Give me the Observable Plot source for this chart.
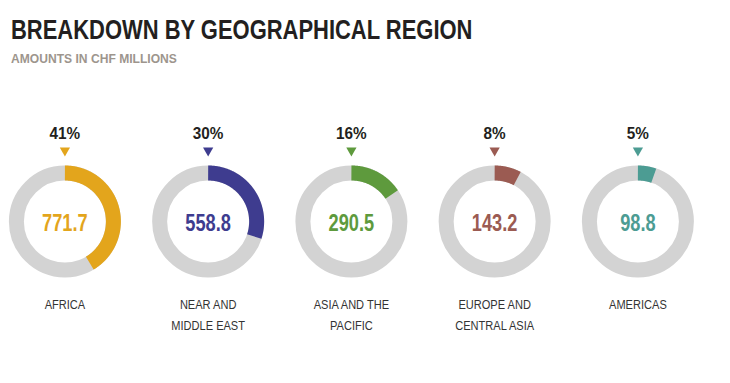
<!DOCTYPE html>
<html>
<head>
<meta charset="utf-8">
<script src="https://cdn.jsdelivr.net/npm/d3@7"></script>
<script src="https://cdn.jsdelivr.net/npm/@observablehq/plot@0.6"></script>
<style>
  html, body { margin: 0; padding: 0; background: #ffffff; }
  #wrap { width: 730px; height: 383px; position: relative; overflow: hidden; }
  #head { height: 75px; position: relative; }
  #title { position: absolute; left: 11px; top: 17px; margin: 0; font-family: "Liberation Sans", sans-serif; font-weight: bold; font-size: 27px; line-height: 27px; color: #231f20; white-space: nowrap; transform: scaleX(0.813); transform-origin: 0 0; }
  #subtitle { position: absolute; left: 11px; top: 52px; margin: 0; font-family: "Liberation Sans", sans-serif; font-weight: bold; font-size: 13px; line-height: 13px; color: #9d958d; white-space: nowrap; transform: scaleX(0.93); transform-origin: 0 0; }
</style>
</head>
<body>
<div id="wrap">
  <div id="head">
    <div id="title">BREAKDOWN BY GEOGRAPHICAL REGION</div>
    <div id="subtitle">AMOUNTS IN CHF MILLIONS</div>
  </div>
  <div id="chart"></div>
</div>
<script>
// ---- data ----
const regions = ["AFRICA", "NEAR AND\nMIDDLE EAST", "ASIA AND THE\nPACIFIC", "EUROPE AND\nCENTRAL ASIA", "AMERICAS"];
const amounts = [771.7, 558.8, 290.5, 143.2, 98.8];
const shareLabels = ["41%", "30%", "16%", "8%", "5%"];
const colors = ["#e3a51c", "#3e3c8f", "#5e9a3d", "#9b5b52", "#4c9c93"];

// ---- layout constants ----
const W = 730, H = 308;
const SLOT = 143.25, FIRST = 64.4;   // px between donut centres, px of first centre
const R = 48.5, RING = 15;           // ring mid radius and thickness (px)
const total = d3.sum(amounts);

const rows = regions.map((r, i) => ({i, region: r, amount: amounts[i], label: shareLabels[i], color: colors[i], share: amounts[i] / total}));

const arcPts = [];
rows.forEach(d => {
  const end = d.share * 360;
  for (let a = 0; a <= end; a += 0.5) arcPts.push({i: d.i, color: d.color, a});
  arcPts.push({i: d.i, color: d.color, a: end});
});
const rad = a => a * Math.PI / 180;

const chart = Plot.plot({
  width: W,
  height: H,
  margin: 0,
  x: {domain: [-FIRST / SLOT, (W - FIRST) / SLOT], range: [0, W], axis: null},
  y: {domain: [-146, H - 146], range: [0, H], axis: null},
  color: {type: "identity"},
  style: {fontFamily: "'Liberation Sans', sans-serif", background: "#ffffff", overflow: "visible"},
  marks: [
    Plot.dot(rows, {x: d => d.i, y: () => 0, r: R, fill: "none", stroke: "#d3d3d3", strokeWidth: RING}),
    Plot.line(arcPts, {
      x: d => d.i + R * Math.sin(rad(d.a)) / SLOT,
      y: d => -R * Math.cos(rad(d.a)),
      z: "i", stroke: "color", strokeWidth: RING, strokeLinecap: "butt", strokeLinejoin: "round"
    }),
    Plot.text(rows, {x: d => d.i, y: () => -88, text: "label", fill: "#231f20", fontSize: 17, fontWeight: "bold"}),
    Plot.dot(rows, {x: d => d.i, y: () => -71, symbol: "triangle", rotate: 180, r: 3.8, fill: "color", stroke: "none"}),
    Plot.text(rows, {x: d => d.i, y: () => 2, text: d => d3.format(".1f")(d.amount), fill: "color", fontSize: 24, fontWeight: "bold"}),
    Plot.text(rows, {x: d => d.i, y: () => 72, text: "region", lineAnchor: "top", lineHeight: 1.6, fill: "#333333", fontSize: 13.5})
  ]
});

// condense the text horizontally (narrow typeface look); text groups in mark order: pct, value, region
const squeeze = [0.9, 0.76, 0.82];
d3.select(chart).selectAll('g[aria-label="text"]').each(function(_, gi) {
  const k = squeeze[gi] ?? 1;
  d3.select(this).selectAll("text").each(function() {
    const t = this.getAttribute("transform");
    if (t) this.setAttribute("transform", `${t} scale(${k},1)`);
    else {
      const x = +this.getAttribute("x") || 0, y = +this.getAttribute("y") || 0;
      this.setAttribute("transform", `translate(${x},${y}) scale(${k},1) translate(${-x},${-y})`);
    }
  });
});
document.getElementById("chart").appendChild(chart);
</script>
</body>
</html>
